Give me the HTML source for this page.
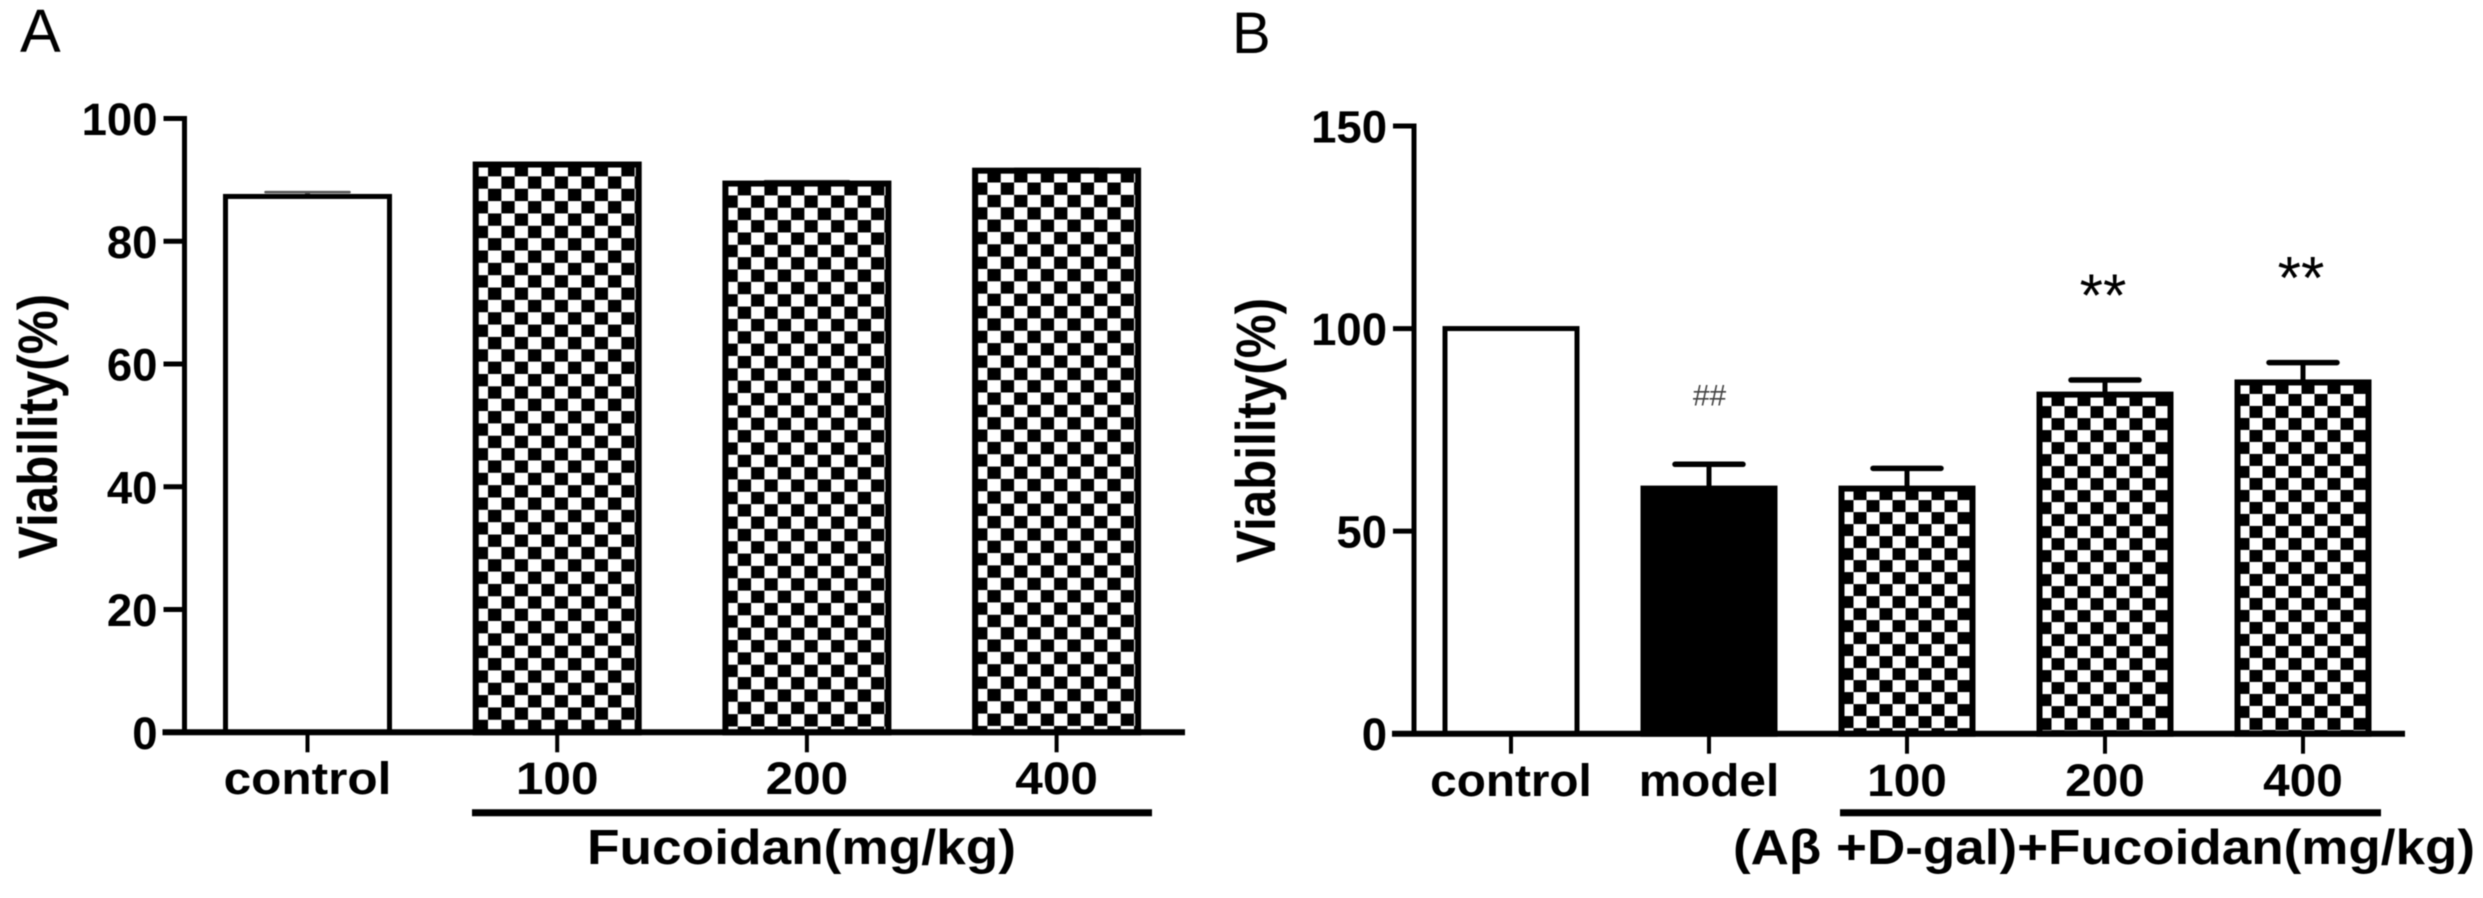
<!DOCTYPE html>
<html lang="en">
<head>
<meta charset="utf-8">
<title>Viability bar charts</title>
<style>
html,body{margin:0;padding:0;background:#fff;}
svg{display:block;filter:blur(0.6px);}
text{font-family:"Liberation Sans",Arial,sans-serif;fill:#000;}
</style>
</head>
<body>
<svg id="figure" xmlns="http://www.w3.org/2000/svg" width="2483" height="898" viewBox="0 0 2483 898">
<rect width="2483" height="898" fill="#fff"/>
<defs id="defs"></defs>
<text x="20" y="52" font-size="61">A</text>
<text x="1232" y="53" font-size="58">B</text>
<g id="panelA"></g>
<g id="panelB"></g>
</svg>
<script>
// Panel A data
const categoriesA = ['control', '100', '200', '400'];
const valuesA = [87.3, 92.5, 89.4, 91.5];
const errorsA = [0.7, 0.3, 0.4, 0.3];
const fillsA = ['white', 'check', 'check', 'check'];
const ticksA = [0, 20, 40, 60, 80, 100];
const groupTitleA = 'Fucoidan(mg/kg)';

// Panel B data
const categoriesB = ['control', 'model', '100', '200', '400'];
const valuesB = [100, 60.5, 60.5, 83.7, 86.7];
const errorsB = [0, 6, 5, 3.6, 4.9];
const fillsB = ['white', 'black', 'check', 'check', 'check'];
const ticksB = [0, 50, 100, 150];
const groupTitleB = '(A\u03B2 +D-gal)+Fucoidan(mg/kg)';
const marksB = ['', '##', '', '**', '**'];

const NS = 'http://www.w3.org/2000/svg';
const defs = document.getElementById('defs');

function make(parent, tag, name, attrs) {
  const el = document.createElementNS(NS, tag);
  for (const k in attrs) el.setAttribute(k, attrs[k]);
  
  
  parent.appendChild(el);
  return el;
}

function label(parent, name, str, attrs, width) {
  const el = make(parent, 'text', name, attrs);
  el.textContent = str;
  if (width) {
    el.setAttribute('textLength', width);
    el.setAttribute('lengthAdjust', 'spacingAndGlyphs');
  }
  return el;
}

function checkPattern(id, x, y, cw, ch) {
  const p = document.createElementNS(NS, 'pattern');
  p.setAttribute('id', id);
  p.setAttribute('patternUnits', 'userSpaceOnUse');
  p.setAttribute('x', x);
  p.setAttribute('y', y);
  p.setAttribute('width', cw * 2);
  p.setAttribute('height', ch * 2);
  [[0, 0, '#fff', cw * 2, ch * 2], [cw, 0, '#000', cw, ch], [0, ch, '#000', cw, ch]].forEach(function (c) {
    const r = document.createElementNS(NS, 'rect');
    r.setAttribute('x', c[0]);
    r.setAttribute('y', c[1]);
    r.setAttribute('width', c[3]);
    r.setAttribute('height', c[4]);
    r.setAttribute('fill', c[2]);
    p.appendChild(r);
  });
  defs.appendChild(p);
}

function drawPanel(o) {
  const g = o.root;
  const yScale = function (v) { return o.y0 - (v / o.yMax) * (o.y0 - o.yTop); };
  const xScale = function (i) { return o.x0 + i * o.step; };
  const key = o.key;

  // error bars (behind the bars)
  o.values.forEach(function (v, i) {
    if (!o.errors[i]) return;
    const c = xScale(i), top = yScale(v + o.errors[i]);
    make(g, 'line', 'error-stem-' + key + '-' + i, {x1: c, x2: c, y1: yScale(v), y2: top, stroke: o.errColor, 'stroke-width': 5});
    make(g, 'line', 'error-cap-' + key + '-' + i, {x1: c - o.capW / 2, x2: c + o.capW / 2, y1: top, y2: top, stroke: o.errColor, 'stroke-width': o.capT, 'stroke-linecap': 'round'});
  });

  // bars
  o.values.forEach(function (v, i) {
    const sw = o.fills[i] === 'white' ? 5 : 6, c = xScale(i), top = yScale(v);
    let fill = '#fff';
    if (o.fills[i] === 'black') fill = '#000';
    if (o.fills[i] === 'check') {
      const id = 'check-' + key + '-' + i;
      checkPattern(id, c - o.barW / 2 + 2, top - sw / 2 + 2.5, o.cellW, o.cellH);
      fill = 'url(#' + id + ')';
    }
    make(g, 'rect', 'bar-' + key + '-' + o.categories[i], {
      x: c - o.barW / 2 + sw / 2, y: top, width: o.barW - sw, height: o.y0 - top,
      fill: fill, stroke: '#000', 'stroke-width': sw
    });
  });

  // y axis and ticks
  make(g, 'line', 'y-axis-' + key, {x1: o.axisX, x2: o.axisX, y1: o.yTop - 2.5, y2: o.y0, stroke: '#000', 'stroke-width': 5});
  o.ticks.forEach(function (t) {
    const y = yScale(t);
    make(g, 'line', 'y-tick-' + key + '-' + t, {x1: o.axisX - 21, x2: o.axisX, y1: y, y2: y, stroke: '#000', 'stroke-width': 5});
    label(g, 'y-tick-label-' + key + '-' + t, String(t), {
      x: o.axisX - 27, y: y + 16.5, 'font-size': 45.5, 'font-weight': 'bold', 'text-anchor': 'end'
    });
  });

  // x axis and ticks
  make(g, 'line', 'x-axis-' + key, {x1: o.axisX - 22, x2: o.xEnd, y1: o.y0, y2: o.y0, stroke: '#000', 'stroke-width': 6});
  o.categories.forEach(function (cat, i) {
    const c = xScale(i);
    make(g, 'line', 'x-tick-' + key + '-' + cat, {x1: c, x2: c, y1: o.y0, y2: o.y0 + 20, stroke: '#000', 'stroke-width': 4});
    const el = label(g, 'x-tick-label-' + key + '-' + cat, cat, {
      x: c, y: o.labelY, 'font-size': 45, 'font-weight': 'bold', 'text-anchor': 'middle'
    });
    el.setAttribute('textLength', el.getComputedTextLength() * o.stretch);
    el.setAttribute('lengthAdjust', 'spacingAndGlyphs');
  });

  // y title
  label(g, 'y-axis-title-' + key, 'Viability(%)', {
    x: 0, y: 0, 'font-size': 56, 'font-weight': 'bold',
    transform: 'translate(' + o.titleX + ' ' + o.titleY + ') rotate(-90)'
  }, 265);

  // group bracket + title
  make(g, 'line', 'group-line-' + key, {x1: o.lineX1, x2: o.lineX2, y1: 812.7, y2: 812.7, stroke: '#000', 'stroke-width': 7});
  label(g, 'group-title-' + key, o.groupTitle, {x: o.groupX, y: 864, 'font-size': 49, 'font-weight': 'bold'}, o.groupW);

  return {xScale: xScale, yScale: yScale};
}

drawPanel({
  root: document.getElementById('panelA'), key: 'a',
  categories: categoriesA, values: valuesA, errors: errorsA, fills: fillsA, ticks: ticksA,
  yMax: 100, y0: 732.3, yTop: 118.5, axisX: 184.5, xEnd: 1185, x0: 307.5, step: 249.7, barW: 169,
  capW: 84, capT: 2.5, errColor: '#555', labelY: 794, stretch: 1.1, cellW: 13.33, cellH: 12.35,
  titleX: 57, titleY: 559, lineX1: 472, lineX2: 1152,
  groupTitle: groupTitleA, groupX: 587, groupW: 429
});

const axesB = drawPanel({
  root: document.getElementById('panelB'), key: 'b',
  categories: categoriesB, values: valuesB, errors: errorsB, fills: fillsB, ticks: ticksB,
  yMax: 150, y0: 733.7, yTop: 126, axisX: 1414, xEnd: 2405, x0: 1511, step: 198, barW: 137,
  capW: 68, capT: 5.5, errColor: '#000', labelY: 796, stretch: 1.06, cellW: 13, cellH: 12,
  titleX: 1275, titleY: 563, lineX1: 1840, lineX2: 2381,
  groupTitle: groupTitleB, groupX: 1733, groupW: 742
});

// significance marks, placed relative to each bar's error-bar top
const gB = document.getElementById('panelB');
marksB.forEach(function (m, i) {
  if (!m) return;
  const c = axesB.xScale(i);
  const top = axesB.yScale(valuesB[i] + errorsB[i]);
  if (m === '##') {
    const t = document.createElementNS(NS, 'text');
    t.setAttribute('x', c + 0.5);
    t.setAttribute('y', top - 59);
    t.setAttribute('font-size', 30);
    t.setAttribute('text-anchor', 'middle');
    t.setAttribute('style', 'fill:#444');
    
    
    t.textContent = m;
    gB.appendChild(t);
  } else {
    const t = document.createElementNS(NS, 'text');
    t.setAttribute('x', c - 2);
    t.setAttribute('y', top - 64);
    t.setAttribute('font-size', 60);
    t.setAttribute('text-anchor', 'middle');
    
    
    t.textContent = m;
    gB.appendChild(t);
  }
});
</script>
</body>
</html>
